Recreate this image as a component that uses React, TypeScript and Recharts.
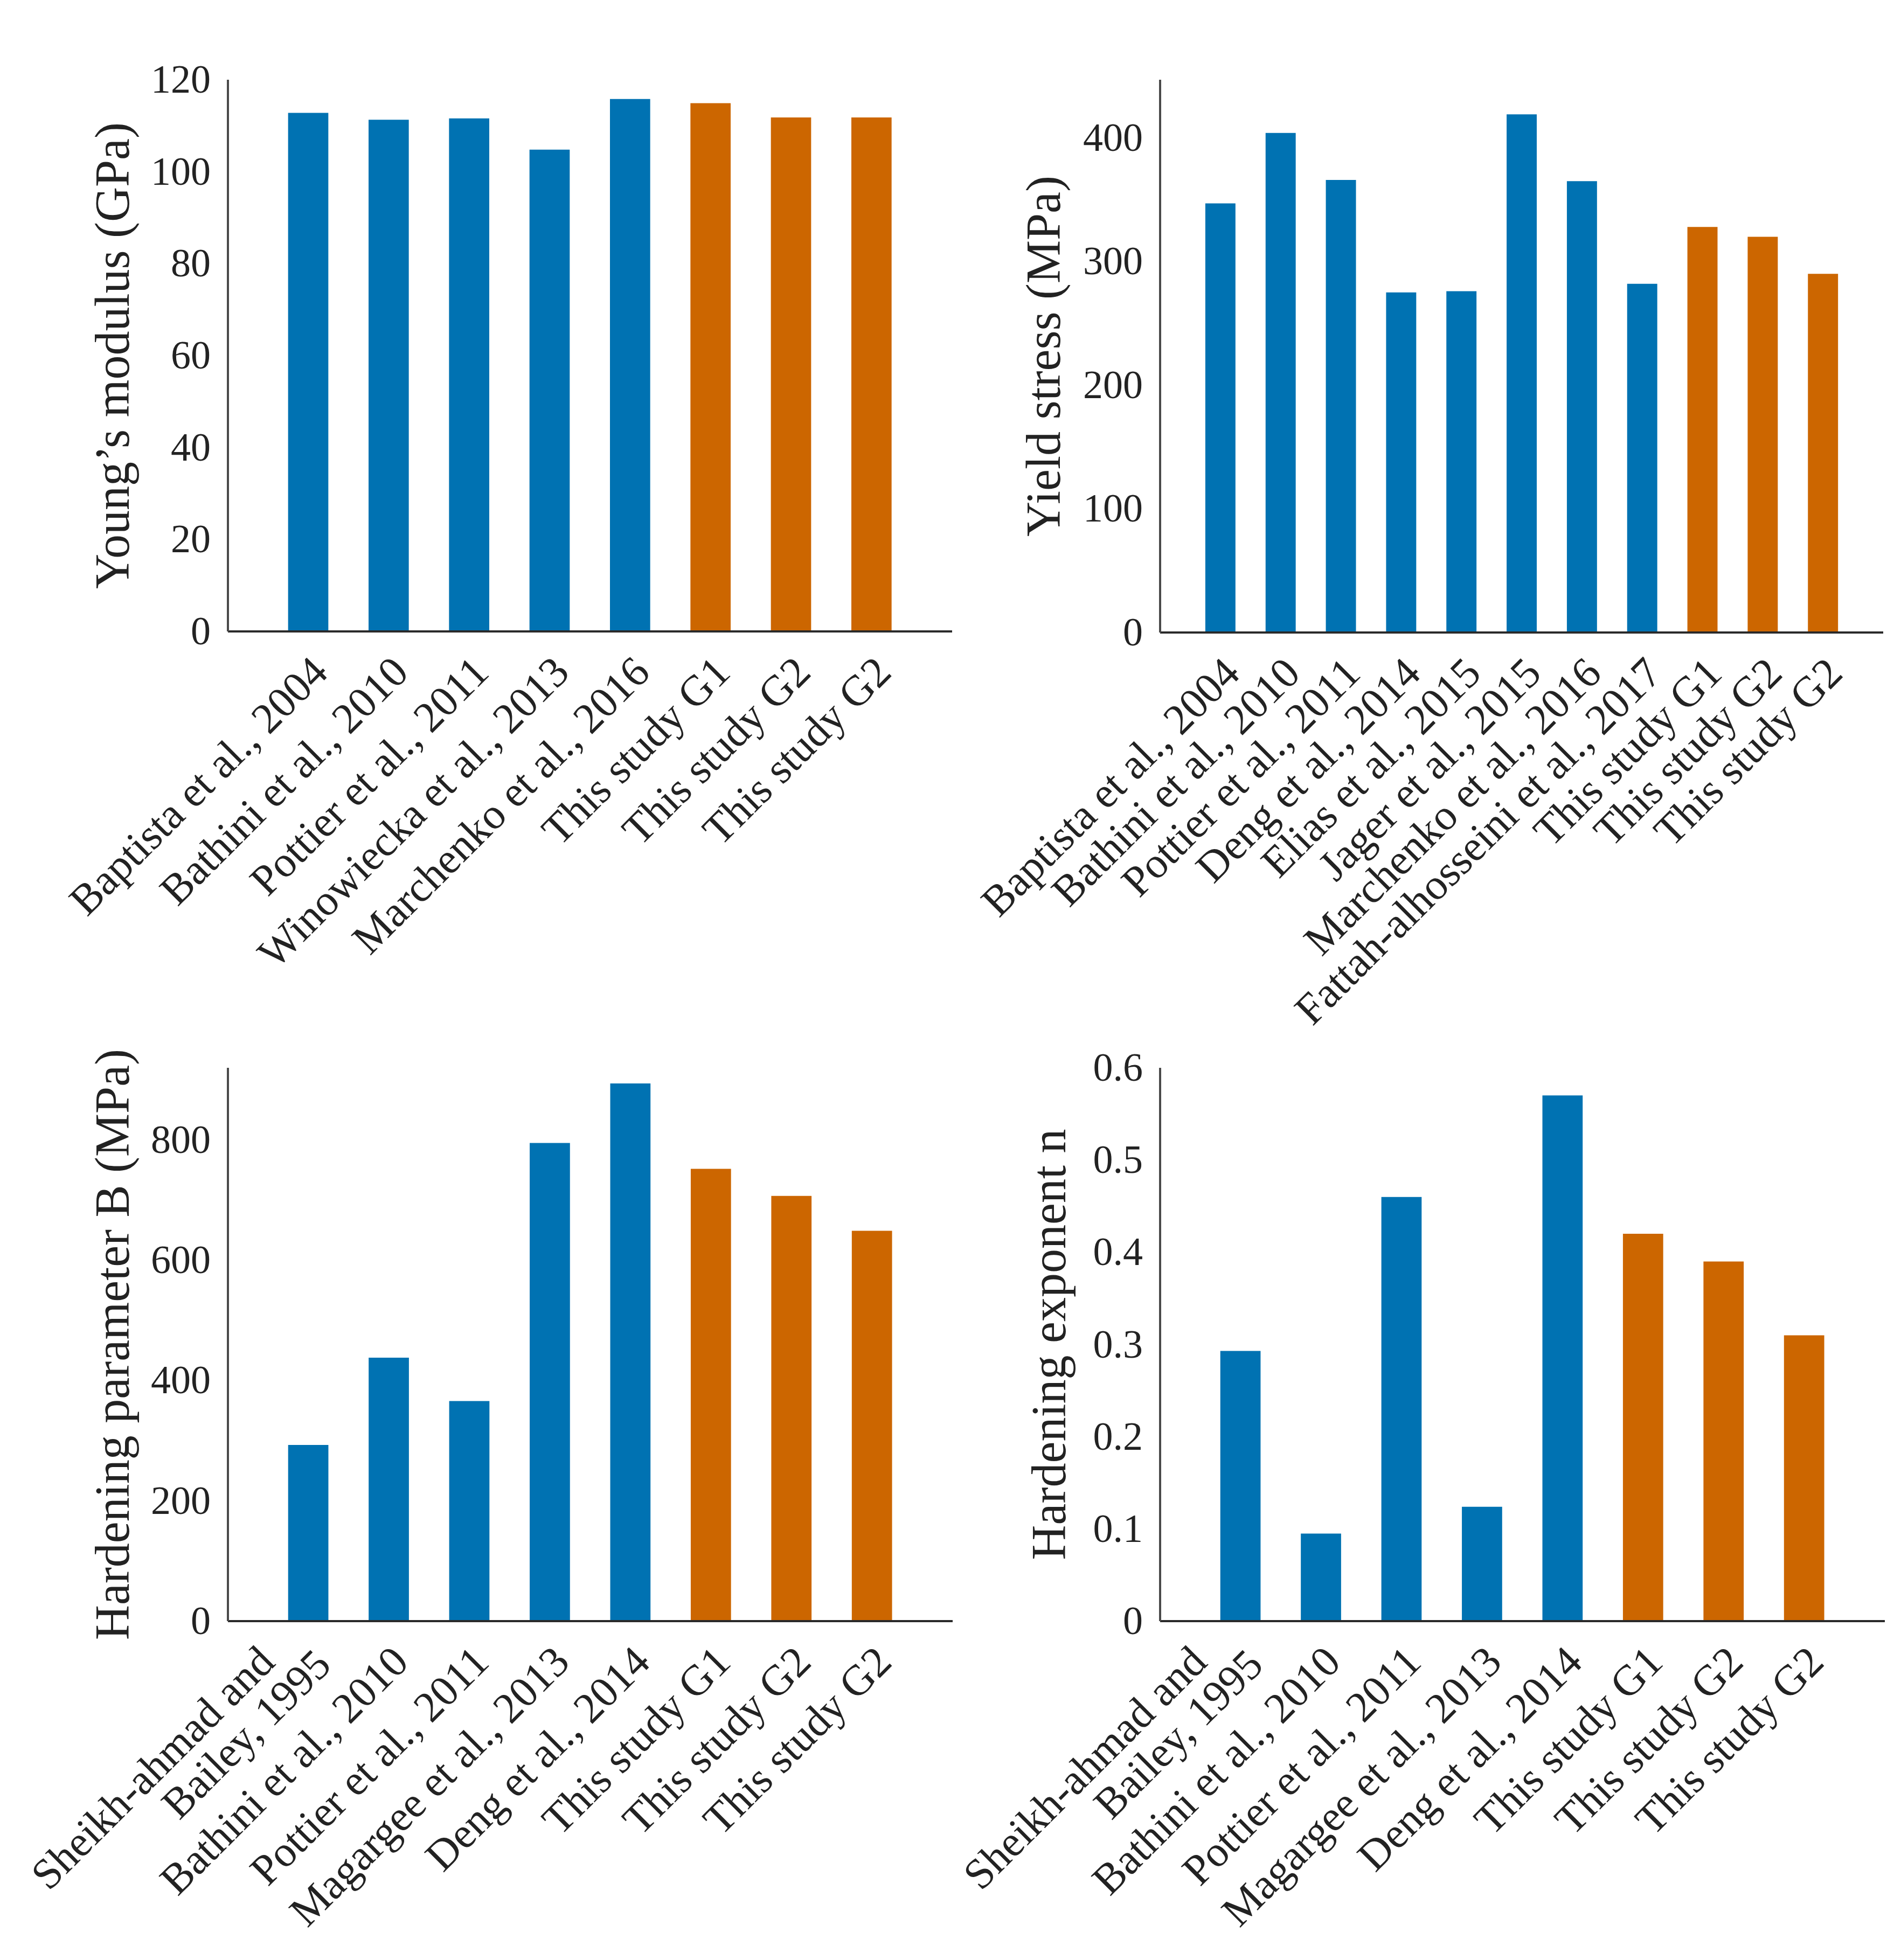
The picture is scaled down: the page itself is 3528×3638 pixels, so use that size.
import { BarChart, Bar, XAxis, YAxis, Cell } from "recharts"

// category labels and values
const youngLabels = [
  "Baptista et al., 2004",
  "Bathini et al., 2010",
  "Pottier et al., 2011",
  "Winowiecka et al., 2013",
  "Marchenko et al., 2016",
  "This study G1",
  "This study G2",
  "This study G2",
]
const youngValues = [112.8, 111.3, 111.6, 104.8, 115.8, 114.9, 111.8, 111.8]
const youngTicks = [0, 20, 40, 60, 80, 100, 120]

const yieldLabels = [
  "Baptista et al., 2004",
  "Bathini et al., 2010",
  "Pottier et al., 2011",
  "Deng et al., 2014",
  "Elias et al., 2015",
  "Jager et al., 2015",
  "Marchenko et al., 2016",
  "Fattah-alhosseini et al., 2017",
  "This study G1",
  "This study G2",
  "This study G2",
]
const yieldValues = [347, 404, 366, 275, 276, 419, 365, 282, 328, 320, 290]
const yieldTicks = [0, 100, 200, 300, 400]

const hardLabels = [
  "Sheikh-ahmad and\nBailey, 1995",
  "Bathini et al., 2010",
  "Pottier et al., 2011",
  "Magargee et al., 2013",
  "Deng et al., 2014",
  "This study G1",
  "This study G2",
  "This study G2",
]
const hardBValues = [293, 438, 366, 795, 894, 752, 707, 649]
const hardBTicks = [0, 200, 400, 600, 800]

const hardNValues = [0.293, 0.095, 0.46, 0.124, 0.57, 0.42, 0.39, 0.31]
const hardNTicks = [0, 0.1, 0.2, 0.3, 0.4, 0.5, 0.6]

const BLUE = "#0072B2"
const ORANGE = "#CC6600"
const INK = "#222222"
const FONT = "'Liberation Serif', 'DejaVu Serif', serif"

const LEFT = 420
const TOP = 60
const RIGHT = 30
const XH = 800
const YW = 300

const XTick = (props: any) => {
  const { x, y, payload } = props
  const lines = String(payload.value).split("\n")
  const bx = x + 40
  const by = y + 80
  return (
    <g transform={`translate(${bx},${by}) rotate(-45)`}>
      {lines.length === 1 ? (
        <text x={0} y={0} textAnchor="end" fontSize={80} fill={INK} fontFamily={FONT}>
          {lines[0]}
        </text>
      ) : (
        <>
          <text x={-70} y={-70} textAnchor="end" fontSize={80} fill={INK} fontFamily={FONT}>
            {lines[0]}
          </text>
          <text x={0} y={8} textAnchor="end" fontSize={80} fill={INK} fontFamily={FONT}>
            {lines[1]}
          </text>
        </>
      )}
    </g>
  )
}

const YTick = (props: any) => {
  const { x, y, payload } = props
  return (
    <text x={x - 32} y={y + 24} textAnchor="end" fontSize={74} fill={INK} fontFamily={FONT}>
      {String(payload.value)}
    </text>
  )
}

type PanelProps = {
  labels: string[]
  values: number[]
  ticks: number[]
  max: number
  title: string
  x0: number
  x1: number
  y0: number
  y1: number
  titleX: number
}

function Panel({ labels, values, ticks, max, title, x0, x1, y0, y1, titleX }: PanelProps) {
  const data = labels.map((name, i) => ({ name, value: values[i] }))
  const band = (x1 - x0) / (labels.length + 1)
  const left = x0 - LEFT
  const top = y0 - TOP
  const width = x1 - x0 + LEFT + RIGHT
  const height = y1 - y0 + TOP + XH
  const tx = titleX - left + 27
  const ty = TOP + (y1 - y0) / 2

  return (
    <div style={{ position: "absolute", left, top }}>
      <BarChart
        width={width}
        height={height}
        data={data}
        margin={{ top: TOP, right: RIGHT, bottom: 0, left: LEFT - YW }}
      >
        <XAxis
          dataKey="name"
          type="category"
          interval={0}
          height={XH}
          padding={{ left: band / 2, right: band / 2 }}
          tickLine={false}
          tickSize={0}
          tickMargin={0}
          tick={<XTick />}
          axisLine={{ stroke: "#2a2a2a", strokeWidth: 4 }}
        />
        <YAxis
          type="number"
          width={YW}
          domain={[0, max]}
          ticks={ticks}
          tickLine={false}
          tickSize={0}
          tickMargin={0}
          tick={<YTick />}
          axisLine={{ stroke: "#4a4a4a", strokeWidth: 4 }}
          label={{
            content: () => (
              <text
                x={tx}
                y={ty}
                transform={`rotate(-90 ${tx} ${ty})`}
                textAnchor="middle"
                fontSize={90}
                fill={INK}
                fontFamily={FONT}
              >
                {title}
              </text>
            ),
          }}
        />
        <Bar dataKey="value" barSize={band / 2} isAnimationActive={false}>
          {data.map((d, i) => (
            <Cell key={i} fill={d.name.startsWith("This study") ? ORANGE : BLUE} />
          ))}
        </Bar>
      </BarChart>
    </div>
  )
}

export default function App() {
  return (
    <div
      style={{
        position: "absolute",
        left: 0,
        top: 0,
        width: 3528,
        height: 3638,
        overflow: "hidden",
        background: "#ffffff",
      }}
    >
      <Panel
        labels={youngLabels}
        values={youngValues}
        ticks={youngTicks}
        max={120}
        title="Young’s modulus (GPa)"
        x0={423}
        x1={1767}
        y0={148}
        y1={1172}
        titleX={212}
      />
      <Panel
        labels={yieldLabels}
        values={yieldValues}
        ticks={yieldTicks}
        max={447}
        title="Yield stress (MPa)"
        x0={2153}
        x1={3495}
        y0={148}
        y1={1174}
        titleX={1940}
      />
      <Panel
        labels={hardLabels}
        values={hardBValues}
        ticks={hardBTicks}
        max={920}
        title="Hardening parameter B (MPa)"
        x0={423}
        x1={1768}
        y0={1982}
        y1={3009}
        titleX={212}
      />
      <Panel
        labels={hardLabels}
        values={hardNValues}
        ticks={hardNTicks}
        max={0.6}
        title="Hardening exponent n"
        x0={2153}
        x1={3498}
        y0={1982}
        y1={3009}
        titleX={1950}
      />
    </div>
  )
}
